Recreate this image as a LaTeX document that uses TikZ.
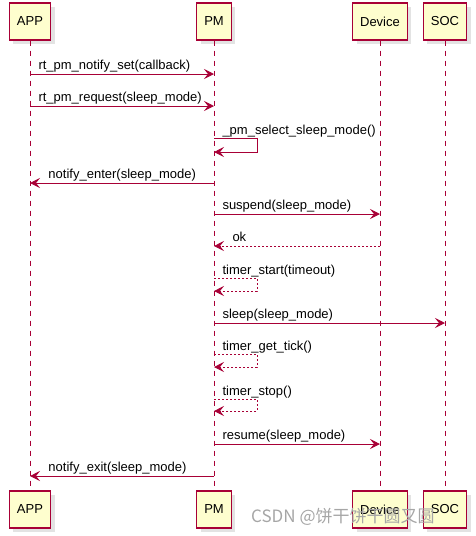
\documentclass[tikz,border=0pt]{standalone}
\usepackage{fontspec}
\setmainfont{Liberation Sans}
\newfontfamily\cjkfont{Noto Sans CJK SC}
\usetikzlibrary{arrows.meta,shadows,positioning}
\definecolor{umlred}{RGB}{168,0,54}
\definecolor{umlfill}{RGB}{254,254,206}

\begin{document}
\begin{tikzpicture}[x=1pt, y=-1pt,
    party/.style={draw=umlred, fill=umlfill, line width=1.3pt, minimum height=37pt, inner xsep=7.5pt, font=\fontsize{13}{15}\selectfont, drop shadow={shadow xshift=4pt, shadow yshift=-4pt, fill=black!22}},
    life/.style={umlred, line width=1pt, dash pattern=on 5pt off 5pt},
    msg/.style={umlred, line width=1pt, -{Stealth[length=10pt, width=10pt, inset=4pt]}},
    reply/.style={msg, dash pattern=on 2pt off 2pt},
    lbl/.style={text=black, font=\fontsize{13}{15}\selectfont, inner sep=0pt, anchor=base west}
]
    \useasboundingbox (0,0) rectangle (476,536);

    % participants
    \node[party] (appT) at (30,21.5) {APP};
    \node[party] (pmT) at (214,21.5) {PM};
    \node[party] (devT) at (380,21.5) {Device};
    \node[party] (socT) at (445,21.5) {SOC};
    \node[party] (appB) at (30,509.5) {APP};
    \node[party] (pmB) at (214,509.5) {PM};
    \node[party] (devB) at (380,509.5) {Device};
    \node[party] (socB) at (445,509.5) {SOC};

    \draw[life] (appT) -- (appB);
    \draw[life] (pmT) -- (pmB);
    \draw[life] (devT) -- (devB);
    \draw[life] (socT) -- (socB);

    % message rows
    \coordinate (m1) at (0,74);
    \coordinate (m2) at (0,106);
    \coordinate (m3) at (0,138);
    \coordinate (m4) at (0,183);
    \coordinate (m5) at (0,214);
    \coordinate (m6) at (0,246);
    \coordinate (m7) at (0,278);
    \coordinate (m8) at (0,323);
    \coordinate (m9) at (0,354);
    \coordinate (m10) at (0,399);
    \coordinate (m11) at (0,444);
    \coordinate (m12) at (0,476);

    \draw[msg] (appT |- m1) -- node[lbl, at start, xshift=8pt, yshift=5pt] {rt\_pm\_notify\_set(callback)} (pmT |- m1);
    \draw[msg] (appT |- m2) -- node[lbl, at start, xshift=8pt, yshift=5pt] {rt\_pm\_request(sleep\_mode)} (pmT |- m2);
    \draw[msg] (pmT |- m3) -- node[lbl, at start, xshift=8pt, yshift=4pt] {\_pm\_select\_sleep\_mode()} ++(43,0) -- ++(0,14) -- ++(-43,0);
    \draw[msg] (pmT |- m4) -- node[lbl, at end, xshift=18pt, yshift=5pt] {notify\_enter(sleep\_mode)} (appT |- m4);
    \draw[msg] (pmT |- m5) -- node[lbl, at start, xshift=8pt, yshift=5pt] {suspend(sleep\_mode)} (devT |- m5);
    \draw[reply] (devT |- m6) -- node[lbl, at end, xshift=18pt, yshift=5pt] {ok} (pmT |- m6);
    \draw[reply] (pmT |- m7) -- node[lbl, at start, xshift=8pt, yshift=4pt] {timer\_start(timeout)} ++(43,0) -- ++(0,13) -- ++(-43,0);
    \draw[msg] (pmT |- m8) -- node[lbl, at start, xshift=8pt, yshift=5pt] {sleep(sleep\_mode)} (socT |- m8);
    \draw[reply] (pmT |- m9) -- node[lbl, at start, xshift=8pt, yshift=4pt] {timer\_get\_tick()} ++(43,0) -- ++(0,13) -- ++(-43,0);
    \draw[reply] (pmT |- m10) -- node[lbl, at start, xshift=8pt, yshift=4pt] {timer\_stop()} ++(43,0) -- ++(0,12) -- ++(-43,0);
    \draw[msg] (pmT |- m11) -- node[lbl, at start, xshift=8pt, yshift=5pt] {resume(sleep\_mode)} (devT |- m11);
    \draw[msg] (pmT |- m12) -- node[lbl, at end, xshift=18pt, yshift=5pt] {notify\_exit(sleep\_mode)} (appT |- m12);

    % watermark
    \node[anchor=base west, inner sep=0pt, text=black!35, font=\cjkfont\fontsize{17}{19}\selectfont] (mark) at (251,522) {CSDN @饼干饼干圆又圆};
\end{tikzpicture}
\end{document}
